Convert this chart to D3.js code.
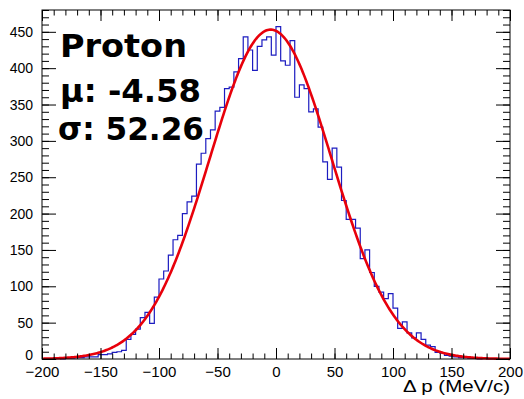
<!DOCTYPE html>
<html><head><meta charset="utf-8">
<script src="https://cdn.jsdelivr.net/npm/d3@7/dist/d3.min.js"></script>
<style>body{margin:0;background:#fff}svg{display:block}</style>
</head><body>
<svg id="c" width="524" height="399"></svg>
<script>
// ---- data ----
const binLow = -200;
const binWidth = 4;
const counts = [
  0, 0, 0, 1, 0, 1, 1, 2, 2, 3,
  3, 3, 6, 6, 7, 9, 10, 12, 27, 34,
  41, 57, 64, 49, 85, 110, 121, 143, 164, 170,
  200, 216, 224, 268, 283, 303, 315, 341, 346, 372,
  374, 395, 413, 443, 425, 397, 430, 439, 443, 418,
  457, 410, 404, 438, 360, 377, 372, 340, 344, 319,
  271, 247, 290, 264, 218, 192, 192, 180, 138, 150,
  119, 100, 92, 83, 90, 70, 42, 51, 36, 29,
  36, 27, 19, 17, 9, 8, 5, 4, 3, 2,
  2, 1, 1, 0, 1, 0, 0, 0, 0, 0
];
const fitParams = [453, -4.58, 52.26]; // constant, mean, sigma of the Gaussian fit
const xDomain = [-200, 200];
const yDomain = [0, 480];
const xTicks = [-200, -150, -100, -50, 0, 50, 100, 150, 200];
const yTicks = [0, 50, 100, 150, 200, 250, 300, 350, 400, 450];
const infoLines = ["Proton", "μ: -4.58", "σ: 52.26"];
const xTitle = "Δ p (MeV/c)";

// ---- layout ----
const L = 42, R = 510, T = 10, B = 359;
const svg = d3.select("#c");
const x = d3.scaleLinear().domain(xDomain).range([L, R]);
const y = d3.scaleLinear().domain(yDomain).range([B, T]);
const fontAxis = "'Liberation Sans', Arial, Helvetica, sans-serif";

// histogram outline
const pts = [[binLow, 0]];
counts.forEach((c, i) => pts.push([binLow + i * binWidth, c]));
pts.push([binLow + counts.length * binWidth, counts[counts.length - 1]]);
pts.push([binLow + counts.length * binWidth, 0]);
const stepLine = d3.line().x(d => x(d[0])).y(d => y(d[1])).curve(d3.curveStepAfter);
svg.append("path").attr("d", stepLine(pts))
  .attr("fill", "none").attr("stroke", "#1c1cc0").attr("stroke-width", 1.2);

// gaussian fit curve
const gauss = v => fitParams[0] * Math.exp(-Math.pow(v - fitParams[1], 2) / (2 * fitParams[2] * fitParams[2]));
const fx = d3.range(xDomain[0], xDomain[1] + 0.001, 1);
svg.append("path").attr("d", d3.line().x(v => x(v)).y(v => y(gauss(v)))(fx))
  .attr("fill", "none").attr("stroke", "#e8000b").attr("stroke-width", 2.6);

// axes
function styleAxis(g) {
  g.select(".domain").remove();
  g.selectAll("line").attr("stroke", "#000").attr("stroke-width", 1);
}
const minorX = d3.range(-200, 201, 10);
const minorY = d3.range(0, 481, 10);

svg.append("g").attr("transform", `translate(0,${B})`)
  .call(d3.axisBottom(x).tickValues(minorX).tickSize(-5.5).tickFormat(""))
  .call(styleAxis);
svg.append("g").attr("transform", `translate(0,${B})`)
  .call(d3.axisBottom(x).tickValues(xTicks).tickSize(-11).tickPadding(7))
  .call(styleAxis)
  .selectAll("text").attr("font-family", fontAxis).attr("font-size", 15).attr("fill", "#000");
svg.append("g").attr("transform", `translate(0,${T})`)
  .call(d3.axisTop(x).tickValues(minorX).tickSize(-5.5).tickFormat(""))
  .call(styleAxis);
svg.append("g").attr("transform", `translate(0,${T})`)
  .call(d3.axisTop(x).tickValues(xTicks).tickSize(-11).tickFormat(""))
  .call(styleAxis);

svg.append("g").attr("transform", `translate(${L},0)`)
  .call(d3.axisLeft(y).tickValues(minorY).tickSize(-7).tickFormat(""))
  .call(styleAxis);
const yAx = svg.append("g").attr("transform", `translate(${L},0)`)
  .call(d3.axisLeft(y).tickValues(yTicks).tickSize(-14).tickPadding(9))
  .call(styleAxis);
yAx.selectAll("text").attr("font-family", fontAxis).attr("font-size", 14).attr("fill", "#000")
  .attr("dy", d => d === 0 ? "0.05em" : "0.32em");
svg.append("g").attr("transform", `translate(${R},0)`)
  .call(d3.axisRight(y).tickValues(minorY).tickSize(-7).tickFormat(""))
  .call(styleAxis);
svg.append("g").attr("transform", `translate(${R},0)`)
  .call(d3.axisRight(y).tickValues(yTicks).tickSize(-14).tickFormat(""))
  .call(styleAxis);

// frame
svg.append("rect").attr("x", L).attr("y", T).attr("width", R - L).attr("height", B - T)
  .attr("fill", "none").attr("stroke", "#000").attr("stroke-width", 1);

// axis title
svg.append("text").attr("x", R).attr("y", 392).attr("text-anchor", "end")
  .attr("font-family", fontAxis).attr("font-size", 16)
  .attr("textLength", 107).attr("lengthAdjust", "spacingAndGlyphs")
  .text(xTitle);

// info text
const infoY = [57, 102, 140];
const infoX = [60, 60, 58];
const infoW = [127, 141, 146];
svg.selectAll("text.info").data(infoLines).join("text").attr("class", "info")
  .attr("x", (d, i) => infoX[i]).attr("y", (d, i) => infoY[i])
  .attr("font-family", "'DejaVu Sans', sans-serif")
  .attr("font-weight", "bold").attr("font-size", 32)
  .attr("textLength", (d, i) => infoW[i]).attr("lengthAdjust", "spacingAndGlyphs")
  .attr("fill", "#000")
  .text(d => d);
</script>
</body></html>
